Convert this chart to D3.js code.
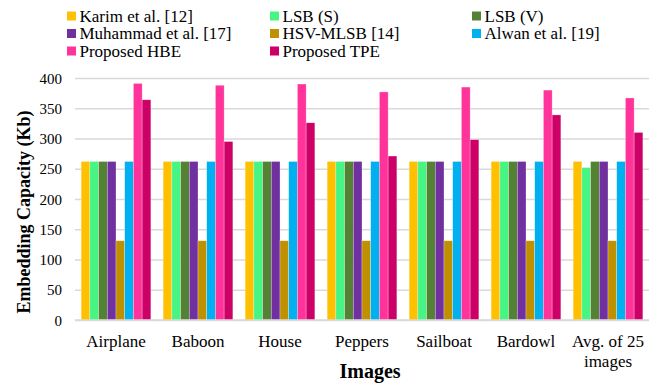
<!DOCTYPE html>
<html><head><meta charset="utf-8">
<script src="https://cdn.jsdelivr.net/npm/d3@7"></script>
<style>body{margin:0;background:#fff}svg{display:block}text{font-family:"Liberation Serif","Times New Roman",serif;fill:#000}</style>
</head><body><svg id="c" width="670" height="383"></svg>
<script>
const categories = ["Airplane","Baboon","House","Peppers","Sailboat","Bardowl","Avg. of 25 images"];
const seriesNames = ["Karim et al. [12]","LSB (S)","LSB (V)","Muhammad et al. [17]","HSV-MLSB [14]","Alwan et al. [19]","Proposed HBE","Proposed TPE"];
const seriesColors = ["#FFC000","#47F584","#548235","#7030A0","#BF9000","#00B0F0","#FF3399","#CC0066"];
const karim    = [262,262,262,262,262,262,262];
const lsbS     = [262,262,262,262,262,262,252];
const lsbV     = [262,262,262,262,262,262,262];
const muhammad = [262,262,262,262,262,262,262];
const hsvMlsb  = [131,131,131,131,131,131,131];
const alwan    = [262,262,262,262,262,262,262];
const hbe      = [391,388,390,377,385,380,367];
const tpe      = [364,295,326,271,298,339,310];
const yTicks = [0,50,100,150,200,250,300,350,400];

const values = [karim,lsbS,lsbV,muhammad,hsvMlsb,alwan,hbe,tpe];
const FONT = '"Liberation Serif","Times New Roman",serif';
const svg = d3.select("#c");
const L=75,R=649,T=78,B=320;
const x0 = d3.scaleBand().domain(categories).range([L,R]).paddingInner(0.15).paddingOuter(0.075);
const x1 = d3.scaleBand().domain(seriesNames).range([0,x0.bandwidth()]);
const y = d3.scaleLinear().domain([0,400]).range([B,T]);

// gridlines + tick labels
const yAxis = d3.axisLeft(y).tickValues(yTicks).tickSize(-(R-L)).tickPadding(13);
const ga = svg.append("g").attr("transform",`translate(${L},0)`).call(yAxis);
ga.attr("font-family",FONT);
ga.select(".domain").remove();
ga.selectAll(".tick line").attr("stroke","#d9d9d9").attr("stroke-width",1.5);
ga.selectAll(".tick text").attr("font-size","15px").style("font-family",FONT).attr("dy","0.34em");

// bars
const g = svg.append("g");
categories.forEach((c,ci)=>{
  seriesNames.forEach((s,si)=>{
    g.append("rect")
      .attr("x",x0(c)+x1(s)).attr("width",x1.bandwidth())
      .attr("y",y(values[si][ci])).attr("height",B-y(values[si][ci]))
      .attr("fill",seriesColors[si]).attr("stroke","rgba(255,255,255,0.45)").attr("stroke-width",0.6);
  });
});

// x axis line
svg.append("line").attr("x1",L).attr("x2",R).attr("y1",B).attr("y2",B).attr("stroke","#d9d9d9").attr("stroke-width",1.5);

// category labels
categories.forEach(c=>{
  const cx = x0(c)+x0.bandwidth()/2;
  const lines = c==="Avg. of 25 images" ? ["Avg. of 25","images"] : [c];
  lines.forEach((t,i)=>{
    svg.append("text").attr("x",cx).attr("y",347+i*19.5).attr("text-anchor","middle")
      .attr("font-size","17px").style("font-family",FONT).text(t);
  });
});

// axis titles
svg.append("text").attr("x",370).attr("y",378).attr("text-anchor","middle").attr("font-size","20px")
  .attr("font-weight","bold").style("font-family",FONT).text("Images");
svg.append("text").attr("transform","translate(30,212) rotate(-90)").attr("text-anchor","middle")
  .attr("font-size","18px").attr("font-weight","bold").style("font-family",FONT).text("Embedding Capacity (Kb)");

// legend
const colX=[67,270,472], rowY=[16,33.5,51];
seriesNames.forEach((s,i)=>{
  const col=i%3,row=Math.floor(i/3);
  const lg=svg.append("g").attr("transform",`translate(${colX[col]},${rowY[row]})`);
  lg.append("rect").attr("x",0).attr("y",-4.5).attr("width",9).attr("height",9).attr("fill",seriesColors[i]);
  lg.append("text").attr("x",12.5).attr("y",5.5).attr("font-size","17px").style("font-family",FONT).text(s);
});
</script></body></html>
